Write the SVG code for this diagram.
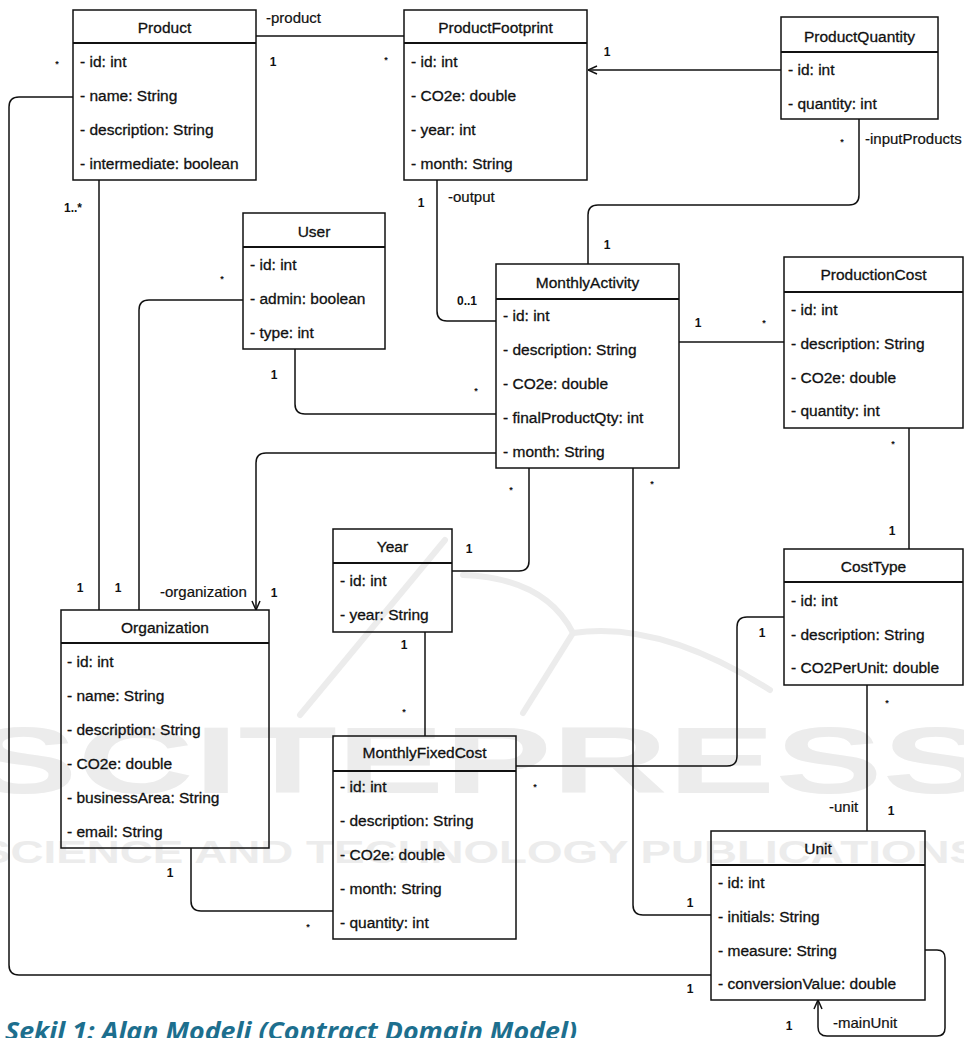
<svg xmlns="http://www.w3.org/2000/svg" width="964" height="1038" viewBox="0 0 964 1038">
<style>
.box{fill:none;stroke:#111;stroke-width:1.5}
.hdr{stroke:#111;stroke-width:2}
.t{font-family:"Liberation Sans",Arial,Helvetica,sans-serif;font-size:15.5px;fill:#111;stroke:#111;stroke-width:0.3}
.ttl{text-anchor:middle}
.m{font-family:"Liberation Sans",Arial,Helvetica,sans-serif;font-size:12px;font-weight:bold;fill:#111;text-anchor:middle}
.s{font-family:"Liberation Sans",Arial,Helvetica,sans-serif;font-size:9px;font-weight:bold;fill:#111;text-anchor:middle}
.lbl{font-family:"Liberation Sans",Arial,Helvetica,sans-serif;font-size:15px;fill:#111;stroke:#111;stroke-width:0.2}
.c{fill:none;stroke:#111;stroke-width:1.5}
.wm{fill:#ececec;font-family:"Liberation Sans",Arial,sans-serif;font-weight:bold}
.wl{fill:none;stroke:#ececec;stroke-width:6;stroke-linecap:round}
.cap{font-family:"Open Sans","Noto Sans",sans-serif;font-style:italic;font-weight:bold;font-size:25px;fill:#1d6f8e}
</style>
<defs>
<marker id="open" viewBox="0 0 10 10" refX="10" refY="5" markerWidth="10" markerHeight="10" markerUnits="userSpaceOnUse" orient="auto">
<path d="M1,1 L10,5 L1,9" fill="none" stroke="#111" stroke-width="1.5"/>
</marker>
</defs>
<rect width="964" height="1038" fill="#fff"/>
<g id="watermark">
<path class="wl" d="M445,540 L300,715"/>
<path class="wl" d="M463,575 Q545,578 573,633"/>
<path class="wl" d="M573,633 L523,713"/>
<path class="wl" d="M573,633 Q660,620 770,690"/>
<text class="wm" x="-30" y="793" font-size="95" textLength="1020" lengthAdjust="spacingAndGlyphs">SCITEPRESS</text>
<text class="wm" x="-20" y="863" font-size="32" textLength="1000" lengthAdjust="spacingAndGlyphs">SCIENCE AND TECHNOLOGY PUBLICATIONS</text>
</g>
<g id="connectors">
<path class="c" d="M256,36 H404"/>
<text class="lbl" x="266" y="23">-product</text>
<text class="m" x="273" y="66">1</text>
<text class="s" x="386" y="63">*</text>

<path class="c" d="M781,70 H588" marker-end="url(#open)"/>
<text class="m" x="607" y="56">1</text>

<path class="c" d="M859,119 V195 Q859,205 849,205 H598 Q588,205 588,215 V264"/>
<text class="s" x="842" y="145">*</text>
<text class="lbl" x="865" y="144">-inputProducts</text>
<text class="m" x="607" y="249">1</text>

<path class="c" d="M437,180 V311 Q437,321 447,321 H496"/>
<text class="m" x="421" y="207">1</text>
<text class="lbl" x="448" y="202">-output</text>
<text class="m" x="467" y="305">0..1</text>

<path class="c" d="M99,180 V610"/>
<text class="m" x="73" y="212">1..*</text>
<text class="m" x="80" y="592">1</text>

<path class="c" d="M73,97 H19 Q9,97 9,107 V965 Q9,975 19,975 H711"/>
<text class="s" x="57" y="67">*</text>
<text class="m" x="690" y="993">1</text>

<path class="c" d="M243,300 H149 Q139,300 139,310 V610"/>
<text class="s" x="222" y="282">*</text>
<text class="m" x="118" y="592">1</text>

<path class="c" d="M295,349 V404 Q295,414 305,414 H496"/>
<text class="m" x="274" y="379">1</text>
<text class="s" x="476" y="394">*</text>

<path class="c" d="M496,453 H266 Q256,453 256,463 V610" marker-end="url(#open)"/>
<text class="lbl" x="160" y="597">-organization</text>
<text class="m" x="274" y="597">1</text>

<path class="c" d="M529,468 V561 Q529,571 519,571 H452"/>
<text class="s" x="511" y="493">*</text>
<text class="m" x="469" y="553">1</text>

<path class="c" d="M633,468 V905 Q633,915 643,915 H711"/>
<text class="s" x="652" y="487">*</text>
<text class="m" x="690" y="907">1</text>

<path class="c" d="M679,342 H784"/>
<text class="m" x="698" y="327">1</text>
<text class="s" x="764" y="326">*</text>

<path class="c" d="M909,428 V549"/>
<text class="s" x="893" y="447">*</text>
<text class="m" x="892" y="535">1</text>

<path class="c" d="M867,685 V831"/>
<text class="s" x="887" y="706">*</text>
<text class="lbl" x="829" y="812">-unit</text>
<text class="m" x="891" y="815">1</text>

<path class="c" d="M516,766 H727 Q737,766 737,756 V627 Q737,617 747,617 H784"/>
<text class="m" x="762" y="637">1</text>
<text class="s" x="535" y="790">*</text>

<path class="c" d="M425,632 V736"/>
<text class="m" x="404" y="649">1</text>
<text class="s" x="404" y="715">*</text>

<path class="c" d="M191,848 V901 Q191,911 201,911 H333"/>
<text class="m" x="170" y="877">1</text>
<text class="s" x="308" y="930">*</text>

<path class="c" d="M925,950 H937 Q945,950 945,958 V1028 Q945,1036 937,1036 H827 Q818,1036 818,1027 V1000" marker-end="url(#open)"/>
<text class="m" x="789" y="1030">1</text>
<text class="lbl" x="833" y="1028">-mainUnit</text>
</g>

<g id="Product">
<rect class="box" x="73" y="10" width="183" height="170"/>
<line class="hdr" x1="73" y1="43" x2="256" y2="43"/>
<text class="t ttl" x="164.5" y="33">Product</text>
<text class="t" x="80" y="67">- id: int</text>
<text class="t" x="80" y="101">- name: String</text>
<text class="t" x="80" y="135">- description: String</text>
<text class="t" x="80" y="169">- intermediate: boolean</text>
</g>

<g id="ProductFootprint">
<rect class="box" x="404" y="10" width="183" height="170"/>
<line class="hdr" x1="404" y1="43" x2="587" y2="43"/>
<text class="t ttl" x="495.5" y="33">ProductFootprint</text>
<text class="t" x="411" y="67">- id: int</text>
<text class="t" x="411" y="101">- CO2e: double</text>
<text class="t" x="411" y="135">- year: int</text>
<text class="t" x="411" y="169">- month: String</text>
</g>

<g id="ProductQuantity">
<rect class="box" x="781" y="17" width="157" height="102"/>
<line class="hdr" x1="781" y1="52" x2="938" y2="52"/>
<text class="t ttl" x="859.5" y="42">ProductQuantity</text>
<text class="t" x="788" y="75">- id: int</text>
<text class="t" x="788" y="109">- quantity: int</text>
</g>

<g id="User">
<rect class="box" x="243" y="213" width="142" height="136"/>
<line class="hdr" x1="243" y1="247" x2="385" y2="247"/>
<text class="t ttl" x="314" y="237">User</text>
<text class="t" x="250" y="270">- id: int</text>
<text class="t" x="250" y="304">- admin: boolean</text>
<text class="t" x="250" y="338">- type: int</text>
</g>

<g id="MonthlyActivity">
<rect class="box" x="496" y="264" width="183" height="204"/>
<line class="hdr" x1="496" y1="299" x2="679" y2="299"/>
<text class="t ttl" x="587.5" y="288">MonthlyActivity</text>
<text class="t" x="503" y="321">- id: int</text>
<text class="t" x="503" y="355">- description: String</text>
<text class="t" x="503" y="389">- CO2e: double</text>
<text class="t" x="503" y="423">- finalProductQty: int</text>
<text class="t" x="503" y="457">- month: String</text>
</g>

<g id="ProductionCost">
<rect class="box" x="784" y="257" width="179" height="171"/>
<line class="hdr" x1="784" y1="292" x2="963" y2="292"/>
<text class="t ttl" x="873.5" y="280">ProductionCost</text>
<text class="t" x="791" y="315">- id: int</text>
<text class="t" x="791" y="349">- description: String</text>
<text class="t" x="791" y="383">- CO2e: double</text>
<text class="t" x="791" y="416">- quantity: int</text>
</g>

<g id="CostType">
<rect class="box" x="784" y="549" width="179" height="136"/>
<line class="hdr" x1="784" y1="582" x2="963" y2="582"/>
<text class="t ttl" x="873.5" y="572">CostType</text>
<text class="t" x="791" y="606">- id: int</text>
<text class="t" x="791" y="640">- description: String</text>
<text class="t" x="791" y="673">- CO2PerUnit: double</text>
</g>

<g id="Year">
<rect class="box" x="333" y="529" width="119" height="103"/>
<line class="hdr" x1="333" y1="563" x2="452" y2="563"/>
<text class="t ttl" x="392.5" y="552">Year</text>
<text class="t" x="340" y="586">- id: int</text>
<text class="t" x="340" y="620">- year: String</text>
</g>

<g id="Organization">
<rect class="box" x="61" y="610" width="208" height="238"/>
<line class="hdr" x1="61" y1="643" x2="269" y2="643"/>
<text class="t ttl" x="165" y="633">Organization</text>
<text class="t" x="67" y="667">- id: int</text>
<text class="t" x="67" y="701">- name: String</text>
<text class="t" x="67" y="735">- description: String</text>
<text class="t" x="67" y="769">- CO2e: double</text>
<text class="t" x="67" y="803">- businessArea: String</text>
<text class="t" x="67" y="837">- email: String</text>
</g>

<g id="MonthlyFixedCost">
<rect class="box" x="333" y="736" width="183" height="203"/>
<line class="hdr" x1="333" y1="771" x2="516" y2="771"/>
<text class="t ttl" x="424.5" y="758">MonthlyFixedCost</text>
<text class="t" x="340" y="792">- id: int</text>
<text class="t" x="340" y="826">- description: String</text>
<text class="t" x="340" y="860">- CO2e: double</text>
<text class="t" x="340" y="894">- month: String</text>
<text class="t" x="340" y="928">- quantity: int</text>
</g>

<g id="Unit">
<rect class="box" x="711" y="831" width="214" height="169"/>
<line class="hdr" x1="711" y1="865" x2="925" y2="865"/>
<text class="t ttl" x="818" y="854">Unit</text>
<text class="t" x="718" y="888">- id: int</text>
<text class="t" x="718" y="922">- initials: String</text>
<text class="t" x="718" y="956">- measure: String</text>
<text class="t" x="718" y="989">- conversionValue: double</text>
</g>

<text class="cap" x="5" y="1040" textLength="572" lengthAdjust="spacingAndGlyphs">Şekil 1: Alan Modeli (Contract Domain Model)</text>
</svg>
